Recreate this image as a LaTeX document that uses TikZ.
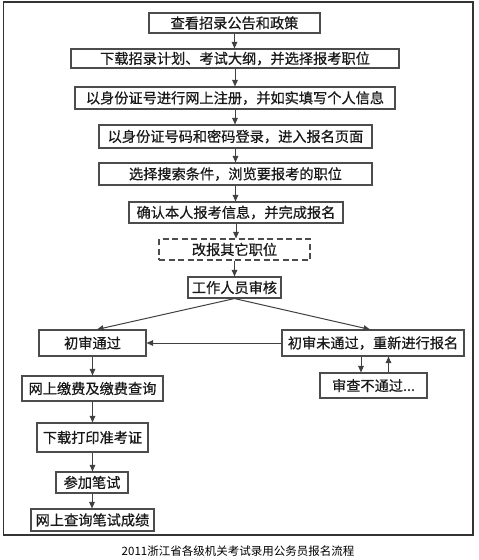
\documentclass[tikz,border=0pt]{standalone}
\usepackage{fontspec}
\setmainfont{Liberation Serif}
\newfontfamily\cjk{Noto Sans CJK SC}
\newfontfamily\cjkb[FakeBold=0.6]{Noto Sans CJK SC}
\usetikzlibrary{arrows.meta,calc}
\begin{document}
\begin{tikzpicture}[x=1pt,y=-1pt,
  box/.style={draw=black!70,line width=1.1pt,inner sep=0pt,font=\cjkb\fontsize{14.2}{16}\selectfont,text=black!90,fill=white},
  dbox/.style={box,dashed,dash pattern=on 6pt off 3.5pt},
  arr/.style={draw=black!75,line width=1pt,-{Triangle[length=6.5pt,width=5.5pt]}}]
\useasboundingbox (0,0) rectangle (479,560);
\fill[white] (0,0) rectangle (479,560);
\draw[black!80,line width=1.1pt] (3.5,2) rectangle (473,535);
\node[box,minimum width=171,minimum height=20] (n1) at (234.5,23) {查看招录公告和政策};
\node[box,minimum width=328,minimum height=19] (n2) at (235,58.5) {下载招录计划、考试大纲，并选择报考职位};
\node[box,minimum width=320,minimum height=22] (n3) at (235,98) {以身份证号进行网上注册，并如实填写个人信息};
\node[box,minimum width=273,minimum height=23] (n4) at (235.5,136.5) {以身份证号码和密码登录，进入报名页面};
\node[box,minimum width=273,minimum height=22] (n5) at (235.5,174) {选择搜索条件，浏览要报考的职位};
\node[box,minimum width=214,minimum height=21] (n6) at (236,212.5) {确认本人报考信息，并完成报名};
\node[dbox,minimum width=151,minimum height=21] (n7) at (234.5,249.5) {改报其它职位};
\node[box,minimum width=93,minimum height=21] (n8) at (234.5,287.5) {工作人员审核};
\node[box,minimum width=107,minimum height=26] (n9) at (92.5,343) {初审通过};
\node[box,minimum width=182,minimum height=26] (n10) at (373,343) {初审未通过，重新进行报名};
\node[box,minimum width=107,minimum height=25] (n11) at (373.5,385.5) {审查不通过...};
\node[box,minimum width=141,minimum height=25] (n12) at (92.5,388.5) {网上缴费及缴费查询};
\node[box,minimum width=111,minimum height=29] (n13) at (92.5,437.5) {下载打印准考证};
\node[box,minimum width=72,minimum height=21] (n14) at (92,482.5) {参加笔试};
\node[box,minimum width=123,minimum height=22] (n15) at (92.5,520) {网上查询笔试成绩};
\node[font=\cjk\fontsize{11.5}{13}\selectfont,text=black,inner sep=0pt] (cap) at (238,551) {2011浙江省各级机关考试录用公务员报名流程};
\draw[arr] (n1.south) -- (n1.south |- n2.north);
\draw[arr] (n2.south) -- (n2.south |- n3.north);
\draw[arr] (n3.south) -- (n3.south |- n4.north);
\draw[arr] (n4.south) -- (n4.south |- n5.north);
\draw[arr] (n5.south) -- (n5.south |- n6.north);
\draw[arr] (n6.south) -- (n6.south |- n7.north);
\draw[arr] (n7.south) -- (n7.south |- n8.north);
\draw[arr] (n8.south) -- ([xshift=4.5pt]n9.north);
\draw[arr] (n8.south) -- ([xshift=-3pt]n10.north);
\draw[arr] (n10.west) -- (n9.east);
\draw[arr] ([xshift=-12pt]n10.south) -- ([xshift=-12pt]n10.south |- n11.north);
\draw[arr] ([xshift=15pt]n11.north) -- ([xshift=15pt]n11.north |- n10.south);
\draw[arr] (n9.south) -- (n9.south |- n12.north);
\draw[arr] (n12.south) -- (n12.south |- n13.north);
\draw[arr] (n13.south) -- (n13.south |- n14.north);
\draw[arr] (n14.south) -- (n14.south |- n15.north);
\end{tikzpicture}
\end{document}
